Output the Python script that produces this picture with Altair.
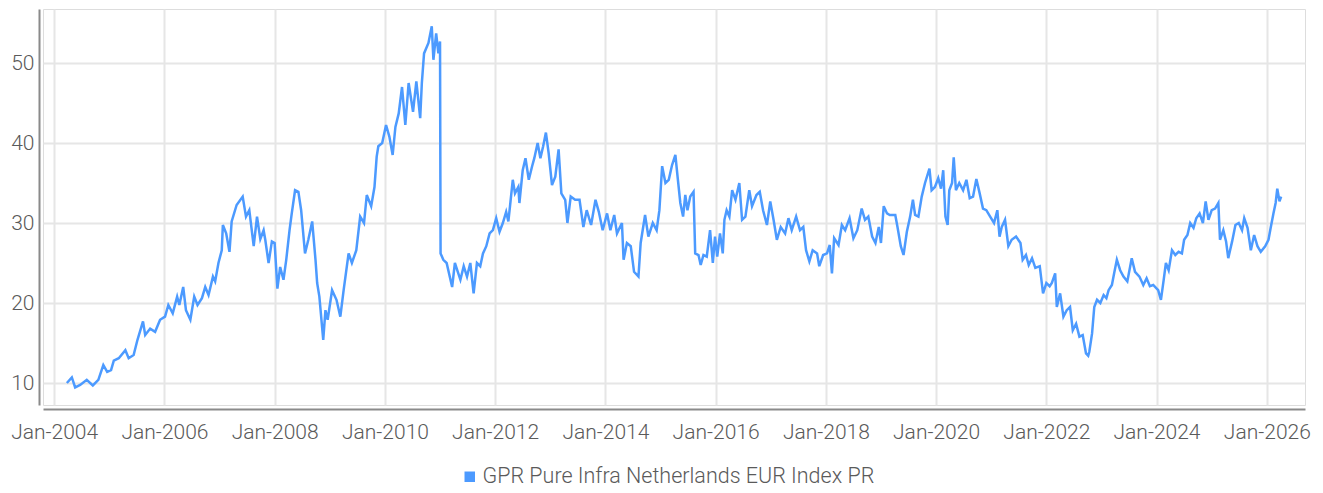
import altair as alt
import pandas as pd

SERIES = "GPR Pure Infra Netherlands EUR Index PR"

# decimal-year positions
years = [
    2004.23, 2004.32, 2004.38, 2004.47, 2004.59, 2004.70, 2004.80, 2004.89, 2004.96, 2005.03,
    2005.08, 2005.17, 2005.29, 2005.35, 2005.44, 2005.51, 2005.61, 2005.65, 2005.74, 2005.83,
    2005.92, 2006.01, 2006.07, 2006.15, 2006.23, 2006.27, 2006.34, 2006.39, 2006.47, 2006.54,
    2006.60, 2006.68, 2006.74, 2006.80, 2006.88, 2006.92, 2006.98, 2007.04, 2007.06, 2007.12,
    2007.18, 2007.22, 2007.31, 2007.42, 2007.48, 2007.54, 2007.62, 2007.68, 2007.74, 2007.80,
    2007.83, 2007.89, 2007.95, 2008.00, 2008.05, 2008.10, 2008.16, 2008.21, 2008.27, 2008.31,
    2008.37, 2008.43, 2008.48, 2008.55, 2008.61, 2008.68, 2008.74, 2008.77, 2008.81, 2008.88,
    2008.92, 2008.96, 2009.04, 2009.12, 2009.19, 2009.25, 2009.34, 2009.40, 2009.48, 2009.55,
    2009.62, 2009.67, 2009.75, 2009.81, 2009.85, 2009.88, 2009.95, 2010.02, 2010.08, 2010.14,
    2010.19, 2010.25, 2010.31, 2010.37, 2010.43, 2010.51, 2010.57, 2010.64, 2010.67, 2010.71,
    2010.79, 2010.85, 2010.88, 2010.93, 2010.97, 2011.00, 2011.01, 2011.06, 2011.12, 2011.22,
    2011.27, 2011.37, 2011.43, 2011.49, 2011.55, 2011.61, 2011.67, 2011.73, 2011.78, 2011.84,
    2011.90, 2011.96, 2012.02, 2012.08, 2012.14, 2012.20, 2012.24, 2012.27, 2012.32, 2012.36,
    2012.42, 2012.44, 2012.50, 2012.55, 2012.61, 2012.67, 2012.71, 2012.77, 2012.82, 2012.87,
    2012.92, 2012.97, 2013.03, 2013.09, 2013.15, 2013.20, 2013.27, 2013.31, 2013.37, 2013.45,
    2013.53, 2013.60, 2013.66, 2013.74, 2013.82, 2013.88, 2013.95, 2014.03, 2014.09, 2014.16,
    2014.21, 2014.30, 2014.33, 2014.39, 2014.46, 2014.52, 2014.60, 2014.64, 2014.72, 2014.78,
    2014.86, 2014.93, 2014.98, 2015.03, 2015.09, 2015.15, 2015.21, 2015.27, 2015.31, 2015.36,
    2015.41, 2015.45, 2015.49, 2015.54, 2015.60, 2015.63, 2015.69, 2015.73, 2015.78, 2015.84,
    2015.90, 2015.95, 2015.99, 2016.03, 2016.08, 2016.13, 2016.16, 2016.20, 2016.25, 2016.30,
    2016.36, 2016.43, 2016.48, 2016.54, 2016.61, 2016.66, 2016.74, 2016.80, 2016.86, 2016.93,
    2016.99, 2017.05, 2017.11, 2017.18, 2017.26, 2017.32, 2017.38, 2017.46, 2017.53, 2017.59,
    2017.64, 2017.70, 2017.76, 2017.84, 2017.88, 2017.95, 2018.02, 2018.07, 2018.11, 2018.15,
    2018.23, 2018.29, 2018.35, 2018.43, 2018.50, 2018.57, 2018.65, 2018.71, 2018.77, 2018.84,
    2018.90, 2018.96, 2019.00, 2019.05, 2019.11, 2019.16, 2019.26, 2019.30, 2019.36, 2019.41,
    2019.47, 2019.53, 2019.58, 2019.62, 2019.68, 2019.74, 2019.80, 2019.88, 2019.92, 2019.98,
    2020.04, 2020.09, 2020.13, 2020.17, 2020.21, 2020.24, 2020.29, 2020.32, 2020.36, 2020.42,
    2020.49, 2020.55, 2020.61, 2020.67, 2020.73, 2020.79, 2020.85, 2020.91, 2020.98, 2021.05,
    2021.11, 2021.15, 2021.19, 2021.25, 2021.31, 2021.37, 2021.45, 2021.53, 2021.57, 2021.63,
    2021.68, 2021.74, 2021.80, 2021.88, 2021.94, 2022.00, 2022.06, 2022.10, 2022.16, 2022.19,
    2022.25, 2022.31, 2022.37, 2022.43, 2022.48, 2022.54, 2022.60, 2022.66, 2022.72, 2022.76,
    2022.78, 2022.83, 2022.87, 2022.92, 2022.98, 2023.04, 2023.09, 2023.13, 2023.19, 2023.23,
    2023.28, 2023.34, 2023.40, 2023.47, 2023.55, 2023.61, 2023.69, 2023.76, 2023.82, 2023.88,
    2023.94, 2024.03, 2024.08, 2024.13, 2024.17, 2024.22, 2024.28, 2024.34, 2024.40, 2024.46,
    2024.50, 2024.56, 2024.61, 2024.67, 2024.72, 2024.78, 2024.84, 2024.89, 2024.94, 2025.00,
    2025.06, 2025.12, 2025.15, 2025.21, 2025.26, 2025.30, 2025.37, 2025.43, 2025.49, 2025.55,
    2025.59, 2025.65, 2025.71, 2025.77, 2025.83, 2025.89, 2025.97, 2026.03, 2026.07, 2026.12,
    2026.16, 2026.19, 2026.23, 2026.26,
]

values = [
    10.0, 10.7, 9.45, 9.75, 10.4, 9.7, 10.4, 12.25, 11.4, 11.6,
    12.8, 13.1, 14.1, 13.1, 13.5, 15.4, 17.7, 16.0, 16.8, 16.4,
    17.9, 18.3, 19.75, 18.7, 20.8, 19.75, 22.0, 19.1, 17.9, 20.8,
    19.75, 20.6, 22.0, 21.0, 23.3, 22.7, 25.0, 26.6, 29.75, 28.7,
    26.4, 30.2, 32.25, 33.3, 30.8, 31.6, 27.1, 30.8, 28.0, 29.1,
    27.9, 25.0, 27.7, 27.5, 21.8, 24.5, 22.9, 25.4, 29.1, 31.2,
    34.1, 33.9, 31.6, 26.2, 27.9, 30.2, 25.4, 22.5, 20.8, 15.4,
    19.1, 17.9, 21.6, 20.4, 18.3, 21.6, 26.2, 25.0, 26.6, 30.8,
    30.0, 33.5, 32.1, 34.5, 38.3, 39.6, 40.0, 42.25, 40.8, 38.5,
    42.0, 43.7, 47.0, 42.25, 47.5, 43.9, 47.7, 43.1, 47.5, 51.2,
    52.5, 54.6, 50.4, 53.7, 51.2, 52.7, 26.2, 25.4, 25.0, 22.0,
    25.0, 22.9, 24.6, 23.3, 25.0, 21.2, 25.0, 24.6, 26.2, 27.1,
    28.7, 29.1, 30.6, 28.9, 30.0, 31.4, 30.2, 32.1, 35.4, 33.7,
    34.5, 32.5, 36.6, 38.1, 35.4, 37.1, 38.1, 40.0, 38.1, 39.6,
    41.3, 38.7, 34.75, 35.8, 39.2, 33.7, 32.9, 30.0, 33.3, 32.9,
    32.9, 29.5, 31.6, 29.75, 32.9, 31.4, 29.1, 31.2, 29.1, 31.0,
    28.7, 30.0, 25.4, 27.5, 27.1, 23.9, 23.3, 27.5, 31.0, 28.3,
    30.0, 29.1, 31.6, 37.1, 35.0, 35.4, 37.25, 38.5, 35.8, 32.5,
    30.8, 33.5, 31.6, 33.3, 33.9, 26.2, 26.0, 24.75, 26.0, 25.8,
    29.1, 25.0, 28.3, 25.8, 28.7, 26.2, 30.4, 31.6, 30.8, 34.1,
    32.9, 35.0, 30.4, 30.8, 34.1, 32.1, 33.5, 33.9, 31.6, 29.75,
    32.7, 30.4, 27.9, 29.5, 28.7, 30.6, 29.1, 30.8, 29.1, 29.5,
    26.6, 25.2, 26.6, 26.2, 24.6, 26.0, 26.2, 27.25, 23.7, 28.1,
    27.25, 29.75, 29.1, 30.6, 28.1, 29.1, 31.8, 30.4, 30.8, 28.3,
    27.5, 29.5, 27.5, 32.1, 31.2, 31.0, 31.0, 29.5, 27.1, 26.0,
    28.9, 30.8, 32.9, 31.0, 30.8, 33.3, 35.0, 36.8, 34.1, 34.5,
    35.6, 34.3, 36.6, 30.8, 29.75, 34.1, 35.0, 38.2, 34.1, 35.0,
    34.1, 35.4, 33.1, 33.3, 35.5, 33.7, 31.8, 31.6, 30.8, 30.0,
    31.6, 28.3, 29.5, 30.4, 27.1, 27.9, 28.3, 27.5, 25.4, 26.0,
    24.75, 25.6, 24.4, 24.6, 21.2, 22.5, 22.1, 22.5, 23.7, 19.5,
    21.2, 18.3, 19.1, 19.5, 16.6, 17.4, 15.8, 16.0, 13.7, 13.4,
    13.9, 16.2, 19.5, 20.4, 20.0, 21.0, 20.6, 21.6, 22.25, 23.7,
    25.4, 24.1, 23.3, 22.7, 25.6, 23.9, 23.3, 22.25, 23.1, 22.1,
    22.25, 21.6, 20.4, 22.9, 25.0, 24.1, 26.6, 26.0, 26.4, 26.2,
    27.9, 28.5, 30.0, 29.4, 30.6, 31.2, 30.0, 32.7, 30.4, 31.6,
    31.8, 32.5, 27.9, 29.1, 27.7, 25.6, 27.7, 29.75, 30.0, 29.1,
    30.6, 29.4, 26.6, 28.5, 27.1, 26.4, 27.1, 27.9, 29.4, 31.2,
    32.5, 34.3, 32.7, 33.3,
]

tick_years = [2004, 2006, 2008, 2010, 2012, 2014, 2016, 2018, 2020, 2022, 2024, 2026]
y_ticks = [10, 20, 30, 40, 50]


def to_date(d):
    y = int(d)
    start = pd.Timestamp(y, 1, 1)
    end = pd.Timestamp(y + 1, 1, 1)
    return (start + (d - y) * (end - start)).strftime("%Y-%m-%dT%H:%M:%SZ")


df = pd.DataFrame({
    "date": [to_date(d) for d in years],
    "value": values,
    "series": SERIES,
})

FONT = "Roboto"
TXT = "#5a5a5a"
BLUE = "#4C9AFF"

chart = (
    alt.Chart(df)
    .mark_line(strokeWidth=2.5)
    .encode(
        x=alt.X(
            "date:T",
            scale=alt.Scale(
                type="utc",
                domain=[
                    alt.DateTime(year=2003, month=10, date=19, utc=True),
                    alt.DateTime(year=2026, month=9, date=11, utc=True),
                ],
                nice=False,
            ),
            axis=alt.Axis(
                title=None,
                values=[alt.DateTime(year=t, month=1, date=1, utc=True) for t in tick_years],
                labelExpr="utcFormat(datum.value, '%b-%Y')",
                labelFont=FONT,
                labelFontSize=21,
                labelFontWeight=300,
                labelColor=TXT,
                labelPadding=12,
                ticks=False,
                domainColor="#8a8a8a",
                domainWidth=2,
                offset=4,
                grid=True,
                gridColor="#e6e6e6",
                gridWidth=2,
                labelFlush=False,
                labelOverlap=False,
            ),
        ),
        y=alt.Y(
            "value:Q",
            scale=alt.Scale(domain=[7.25, 56.75], nice=False, zero=False),
            axis=alt.Axis(
                title=None,
                values=y_ticks,
                labelFont=FONT,
                labelFontSize=21,
                labelFontWeight=300,
                labelColor=TXT,
                labelPadding=5,
                ticks=False,
                domainColor="#8a8a8a",
                domainWidth=2,
                offset=4,
                grid=True,
                gridColor="#e6e6e6",
                gridWidth=2,
            ),
        ),
        color=alt.Color(
            "series:N",
            scale=alt.Scale(range=[BLUE]),
            legend=alt.Legend(
                title=None,
                orient="none",
                legendX=416,
                legendY=457,
                direction="horizontal",
                symbolType="square",
                symbolSize=110,
                symbolFillColor=BLUE,
                symbolStrokeWidth=0,
                labelFont=FONT,
                labelFontSize=21.5,
                labelFontWeight=300,
                labelColor=TXT,
                labelOffset=2,
                labelLimit=1000,
                padding=0,
            ),
        ),
    )
    .properties(
        width=1262,
        height=396,
        padding={"left": 35, "top": 1, "right": 10, "bottom": 86},
        autosize=alt.AutoSizeParams(type="none"),
    )
    .configure_view(stroke=None)
    .configure(background="white")
)

chart.save("out.html", embed_options={"renderer": "svg", "actions": False})
